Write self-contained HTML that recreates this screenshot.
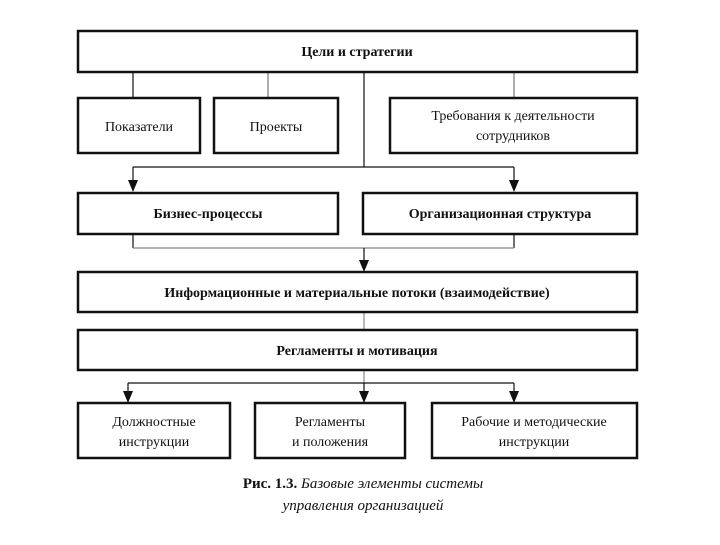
<!DOCTYPE html>
<html><head><meta charset="utf-8"><style>
body{margin:0;background:#fff;}
svg text{font-family:"Liberation Serif",serif;fill:#111;}
</style></head><body>
<svg width="720" height="540" viewBox="0 0 720 540" xmlns="http://www.w3.org/2000/svg">
<g fill="none" stroke="#111" stroke-width="1.2">
<line x1="133" y1="72" x2="133" y2="98"/>
<line x1="268" y1="72" x2="268" y2="98" stroke="#777"/>
<line x1="514" y1="72" x2="514" y2="98" stroke="#777"/>
<line x1="364" y1="72" x2="364" y2="167"/>
<line x1="133" y1="167" x2="514" y2="167"/>
<line x1="133" y1="167" x2="133" y2="182"/>
<line x1="514" y1="167" x2="514" y2="182"/>
<line x1="133" y1="234" x2="133" y2="248"/>
<line x1="514" y1="234" x2="514" y2="248"/>
<line x1="133" y1="248" x2="514" y2="248" stroke="#888"/>
<line x1="364" y1="248" x2="364" y2="262"/>
<line x1="364" y1="312" x2="364" y2="330" stroke="#888"/>
<line x1="364" y1="370" x2="364" y2="383" stroke="#888"/>
<line x1="128" y1="383" x2="514" y2="383"/>
<line x1="128" y1="383" x2="128" y2="393"/>
<line x1="364" y1="383" x2="364" y2="393"/>
<line x1="514" y1="383" x2="514" y2="393"/>
</g>
<g fill="#111">
<polygon points="133,192 128,180 138,180"/>
<polygon points="514,192 509,180 519,180"/>
<polygon points="364,272 359,260 369,260"/>
<polygon points="128,403 123,391 133,391"/>
<polygon points="364,403 359,391 369,391"/>
<polygon points="514,403 509,391 519,391"/>
</g>
<g fill="#fff" stroke="#111" stroke-width="2.5">
<rect x="78" y="31" width="559" height="41"/>
<rect x="78" y="98" width="122" height="55"/>
<rect x="214" y="98" width="124" height="55"/>
<rect x="390" y="98" width="247" height="55"/>
<rect x="78" y="193" width="260" height="41"/>
<rect x="363" y="193" width="274" height="41"/>
<rect x="78" y="272" width="559" height="40"/>
<rect x="78" y="330" width="559" height="40"/>
<rect x="78" y="403" width="152" height="55"/>
<rect x="255" y="403" width="150" height="55"/>
<rect x="432" y="403" width="205" height="55"/>
</g>
<g font-size="14" text-anchor="middle">
<text x="357" y="56" font-weight="bold">Цели  и стратегии</text>
<text x="139" y="131">Показатели</text>
<text x="276" y="131">Проекты</text>
<text x="513" y="120">Требования к деятельности</text>
<text x="513" y="140">сотрудников</text>
<text x="208" y="218" font-weight="bold">Бизнес-процессы</text>
<text x="500" y="218" font-weight="bold">Организационная структура</text>
<text x="357" y="297" font-weight="bold">Информационные и материальные потоки (взаимодействие)</text>
<text x="357" y="355" font-weight="bold">Регламенты и мотивация</text>
<text x="154" y="426">Должностные</text>
<text x="154" y="446">инструкции</text>
<text x="330" y="426">Регламенты</text>
<text x="330" y="446">и положения</text>
<text x="534" y="426">Рабочие и методические</text>
<text x="534" y="446">инструкции</text>
</g>
<g font-size="15" text-anchor="middle">
<text x="363" y="488"><tspan font-weight="bold">Рис. 1.3.</tspan> <tspan font-style="italic">Базовые элементы системы</tspan></text>
<text x="363" y="510" font-style="italic">управления организацией</text>
</g>
</svg>
</body></html>
